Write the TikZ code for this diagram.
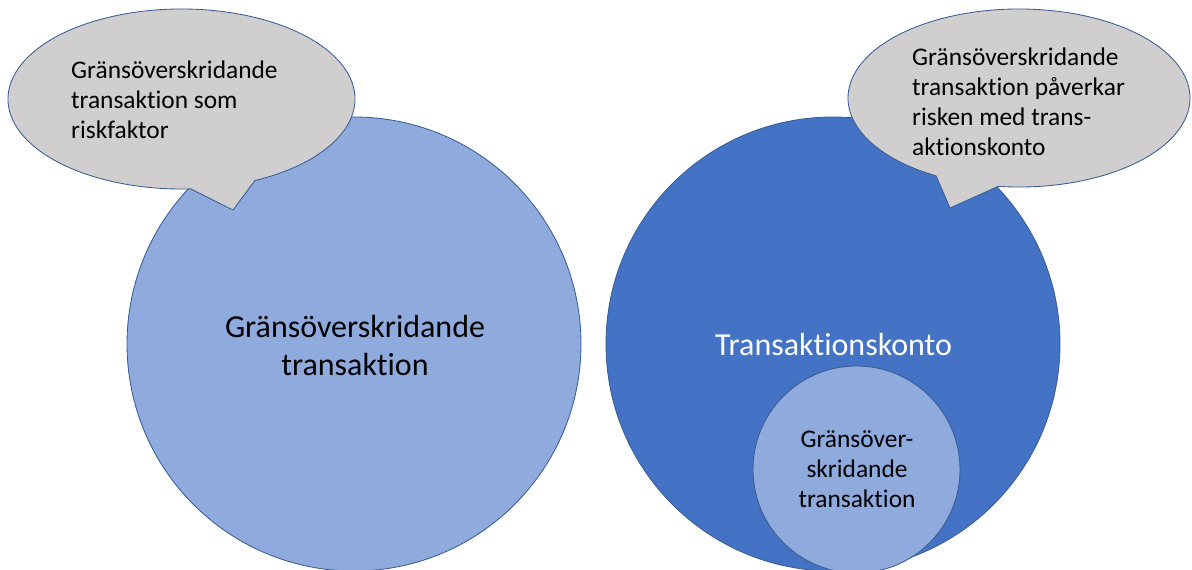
\documentclass[tikz,border=0pt]{standalone}
\usepackage{fontspec}
\setmainfont[Ligatures=NoCommon]{Carlito}
\definecolor{lightblue}{HTML}{8FAADC}
\definecolor{darkblue}{HTML}{4472C4}
\definecolor{callgray}{HTML}{D0CECE}
\definecolor{edge}{HTML}{3A5D92}
\begin{document}
\begin{tikzpicture}[x=1pt,y=-1pt,
  bubble/.style={fill=callgray, draw=edge, line width=0.85pt, line join=miter},
  disc/.style={circle, draw=edge, line width=0.85pt, inner sep=0pt},
  bigtext/.style={font=\fontsize{32}{38.5}\selectfont, align=center, inner sep=0pt},
  smalltext/.style={font=\fontsize{25.4}{30}\selectfont, inner sep=0pt}]
\useasboundingbox (0,0) rectangle (1192,570);
% circles
\node[disc, fill=lightblue, minimum size=454pt] (leftc) at (354,344) {};
\node[disc, fill=darkblue, minimum size=454pt] (rightc) at (833,344) {};
\node[disc, fill=lightblue, minimum size=207pt] (innerc) at (856.5,469.5) {};
% left callout
\path[bubble] (181.5,99) ++(-65:173.5pt and 90pt)
  arc[start angle=-65, end angle=273, x radius=173.5pt, y radius=90pt]
  -- (233,210) -- cycle;
% right callout
\path[bubble] (1019,98) ++(-97:171pt and 89pt)
  arc[start angle=-97, end angle=241, x radius=171pt, y radius=89pt]
  -- (950,208) -- cycle;
% texts
\node[smalltext, align=left, anchor=north west] (t1) at (71,61)
  {Gränsöverskridande\\transaktion som\\riskfaktor};
\node[smalltext, align=left, anchor=north west] (t2) at (912,48)
  {Gränsöverskridande\\transaktion påverkar\\risken med trans-\\aktionskonto};
\node[bigtext, anchor=north] (t3) at (355,315)
  {Gränsöverskridande\\transaktion};
\node[bigtext, text=white, anchor=base] (t4) at (833.5,355) {Transaktionskonto};
\node[smalltext, align=center, anchor=north] (t5) at (857,430)
  {Gränsöver-\\skridande\\transaktion};
\end{tikzpicture}
\end{document}
